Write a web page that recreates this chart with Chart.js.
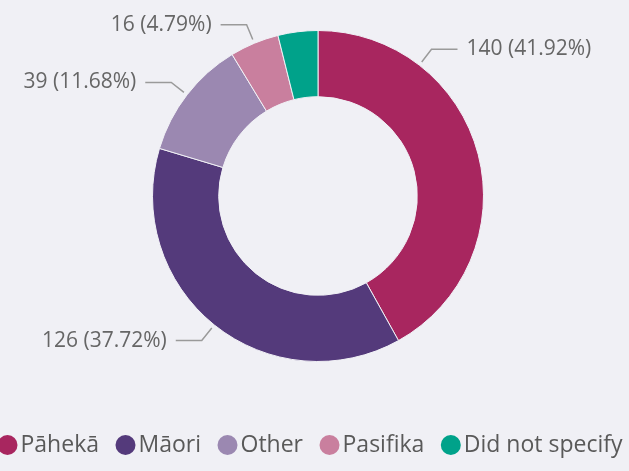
<!DOCTYPE html>
<html>
<head>
<meta charset="utf-8">
<script src="https://cdn.jsdelivr.net/npm/chart.js@4.4.1/dist/chart.umd.min.js"></script>
<style>
  html, body { margin: 0; padding: 0; background: #f0f0f5; }
  #wrap { width: 629px; height: 471px; }
</style>
</head>
<body>
<div id="wrap"><canvas id="chart"></canvas></div>
<script>
"use strict";

const categories = ["Pāhekā", "Māori", "Other", "Pasifika", "Did not specify"];
const counts = [140, 126, 39, 16, 13];
const percentLabels = ["41.92%", "37.72%", "11.68%", "4.79%", null];
const sliceColors = ["#a8265f", "#543a7b", "#9b88b1", "#c97f9e", "#00a28a"];

const BG = "#f0f0f5";

// leader-line labels drawn at a point along each slice (fraction of the slice)
const leaderLabels = {
  id: "leaderLabels",
  afterDatasetsDraw(chart, args, opts) {
    const ctx = chart.ctx;
    const meta = chart.getDatasetMeta(0);
    ctx.save();
    ctx.font = opts.font;
    ctx.textBaseline = "middle";
    meta.data.forEach((arc, i) => {
      const text = opts.texts[i];
      if (!text) return;
      const a = arc.startAngle + (arc.endAngle - arc.startAngle) * opts.at[i];
      const r0 = arc.outerRadius + 4;
      const r1 = arc.outerRadius + 20;
      const x0 = arc.x + Math.cos(a) * r0, y0 = arc.y + Math.sin(a) * r0;
      const x1 = arc.x + Math.cos(a) * r1, y1 = arc.y + Math.sin(a) * r1;
      const right = Math.cos(a) >= 0;
      const x2 = x1 + (right ? 26 : -26);
      ctx.strokeStyle = opts.lineColor;
      ctx.lineWidth = 1.5;
      ctx.beginPath();
      ctx.moveTo(x0, y0);
      ctx.lineTo(x1, y1);
      ctx.lineTo(x2, y1);
      ctx.stroke();
      ctx.fillStyle = opts.color;
      ctx.textAlign = right ? "left" : "right";
      ctx.fillText(text, x2 + (right ? 9 : -9), y1);
    });
    ctx.restore();
  }
};

// single-row legend under the doughnut, centred on opts.centerX
const rowLegend = {
  id: "rowLegend",
  afterDraw(chart, args, opts) {
    const ctx = chart.ctx;
    const labels = chart.data.labels;
    const colors = chart.data.datasets[0].backgroundColor;
    ctx.save();
    ctx.font = opts.font;
    ctx.textBaseline = "middle";
    ctx.textAlign = "left";
    const widths = labels.map(l => ctx.measureText(l).width);
    const r = opts.radius;
    let total = 0;
    widths.forEach((w, i) => {
      total += 2 * r + opts.boxGap + w;
      if (i < widths.length - 1) total += opts.itemGap;
    });
    let x = opts.centerX - total / 2;
    labels.forEach((l, i) => {
      ctx.fillStyle = colors[i];
      ctx.beginPath();
      ctx.arc(x + r, opts.y, r, 0, Math.PI * 2);
      ctx.fill();
      ctx.fillStyle = opts.color;
      ctx.fillText(l, x + 2 * r + opts.boxGap, opts.y);
      x += 2 * r + opts.boxGap + widths[i] + opts.itemGap;
    });
    ctx.restore();
  }
};

const chart = new Chart(document.getElementById("chart"), {
  type: "doughnut",
  data: {
    labels: categories,
    datasets: [{
      data: counts,
      backgroundColor: sliceColors,
      borderColor: BG,
      borderWidth: 1
    }]
  },
  options: {
    responsive: true,
    maintainAspectRatio: false,
    animation: false,
    cutout: "60%",
    layout: { padding: { top: 30, bottom: 109, left: 7, right: 0 } },
    plugins: {
      tooltip: { enabled: false },
      legend: { display: false },
      rowLegend: {
        font: "23px 'Open Sans'",
        color: "#595959",
        radius: 10,
        boxGap: 3,
        itemGap: 16.5,
        centerX: 310,
        y: 445
      },
      leaderLabels: {
        texts: counts.map((c, i) => percentLabels[i] ? c + " (" + percentLabels[i] + ")" : null),
        at: [0.25, 0.5, 0.5, 0.5, 0.5],
        font: "21px 'Open Sans'",
        color: "#666",
        lineColor: "#9a9a9a"
      }
    }
  },
  plugins: [leaderLabels, rowLegend]
});
</script>
</body>
</html>
